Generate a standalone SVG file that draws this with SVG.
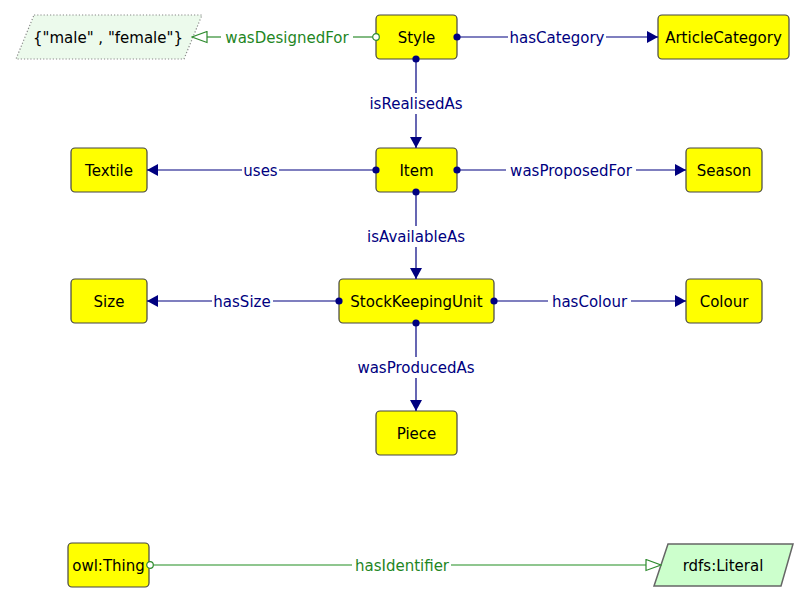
<svg xmlns="http://www.w3.org/2000/svg" width="808" height="602" viewBox="0 0 808 602">
<style>
text{font-family:"DejaVu Sans","Liberation Sans",sans-serif;font-size:15px;text-anchor:middle}
.cls rect{fill:#ffff00;stroke:#444;stroke-width:1.2}
.cls text{fill:#000}
.obj{stroke:#000080;stroke-width:1.2;fill:none}
.dat{stroke:#2e8b2e;stroke-width:1.2;fill:none}
.dat2{stroke:#6ab36a;stroke-width:1.5;fill:none}
.lo{fill:#000080}
.ld{fill:#1f861f}
</style>
<defs>
<marker id="arr" markerUnits="userSpaceOnUse" viewBox="0 0 11 12" refX="11" refY="6" markerWidth="11" markerHeight="12" orient="auto"><path d="M0,0 L11,6 L0,12 z" fill="#000080"/></marker>
<marker id="dot" markerUnits="userSpaceOnUse" viewBox="0 0 8 8" refX="4" refY="4" markerWidth="8" markerHeight="8"><circle cx="4" cy="4" r="3.6" fill="#000080"/></marker>
<marker id="oarr" markerUnits="userSpaceOnUse" viewBox="0 0 17 13" refX="16" refY="6.5" markerWidth="17" markerHeight="13" orient="auto"><path d="M1,1 L16,6.5 L1,12 z" fill="#fff" stroke="#2e8b2e" stroke-width="1.2"/></marker>
<marker id="ocirc" markerUnits="userSpaceOnUse" viewBox="0 0 9 9" refX="4.5" refY="4.5" markerWidth="9" markerHeight="9"><circle cx="4.5" cy="4.5" r="3.3" fill="#fff" stroke="#2e8b2e" stroke-width="1.2"/></marker>
</defs>
<g id="n-genderLiteral">
<polygon points="34,15 202,15 184,59 16,59" fill="#ecfaec" stroke="#888" stroke-width="1.2" stroke-dasharray="1.2,2"/>
<text x="108" y="43" fill="#000">{"male" , "female"}</text>
</g>
<g id="n-Style" class="cls"><rect x="376" y="15" width="81" height="44" rx="4"/><text x="416.5" y="43">Style</text></g>
<g id="n-ArticleCategory" class="cls"><rect x="658" y="15" width="131" height="44" rx="4"/><text x="723.5" y="43">ArticleCategory</text></g>
<g id="n-Textile" class="cls"><rect x="71" y="148" width="76" height="44" rx="4"/><text x="109" y="176">Textile</text></g>
<g id="n-Item" class="cls"><rect x="376" y="148" width="81" height="44" rx="4"/><text x="416.5" y="176">Item</text></g>
<g id="n-Season" class="cls"><rect x="686" y="148" width="76" height="44" rx="4"/><text x="724" y="176">Season</text></g>
<g id="n-Size" class="cls"><rect x="71" y="279" width="76" height="44" rx="4"/><text x="109" y="307">Size</text></g>
<g id="n-StockKeepingUnit" class="cls"><rect x="339" y="279" width="155" height="44" rx="4"/><text x="416.5" y="307">StockKeepingUnit</text></g>
<g id="n-Colour" class="cls"><rect x="686" y="279" width="76" height="44" rx="4"/><text x="724" y="307">Colour</text></g>
<g id="n-Piece" class="cls"><rect x="376" y="411" width="81" height="44" rx="4"/><text x="416.5" y="439">Piece</text></g>
<g id="n-owlThing" class="cls"><rect x="68" y="543" width="81" height="44" rx="4"/><text x="108.5" y="571">owl:Thing</text></g>
<g id="n-rdfsLiteral">
<polygon points="668,544 793,544 781,586 654,586" fill="#ccffcc" stroke="#666" stroke-width="1.5"/>
<text x="723" y="571" fill="#000">rdfs:Literal</text>
</g>
<g id="connectors">
<g id="e-wasDesignedFor">
<line class="dat" x1="376" y1="37" x2="353" y2="37" marker-start="url(#ocirc)"/>
<line class="dat" x1="221" y1="37" x2="192" y2="37" marker-end="url(#oarr)"/>
<text class="ld" x="287" y="43">wasDesignedFor</text>
</g>
<g id="e-hasCategory">
<line class="obj" x1="457" y1="37" x2="508" y2="37" marker-start="url(#dot)"/>
<line class="obj" x1="606" y1="37" x2="658" y2="37" marker-end="url(#arr)"/>
<text class="lo" x="557" y="43">hasCategory</text>
</g>
<g id="e-isRealisedAs">
<line class="obj" x1="416" y1="59" x2="416" y2="93" marker-start="url(#dot)"/>
<line class="obj" x1="416" y1="114" x2="416" y2="148" marker-end="url(#arr)"/>
<text class="lo" x="416" y="109">isRealisedAs</text>
</g>
<g id="e-uses">
<line class="obj" x1="376" y1="170" x2="279" y2="170" marker-start="url(#dot)"/>
<line class="obj" x1="242" y1="170" x2="147" y2="170" marker-end="url(#arr)"/>
<text class="lo" x="260.5" y="176">uses</text>
</g>
<g id="e-wasProposedFor">
<line class="obj" x1="457" y1="170" x2="506" y2="170" marker-start="url(#dot)"/>
<line class="obj" x1="636" y1="170" x2="686" y2="170" marker-end="url(#arr)"/>
<text class="lo" x="571" y="176">wasProposedFor</text>
</g>
<g id="e-isAvailableAs">
<line class="obj" x1="416" y1="192" x2="416" y2="226" marker-start="url(#dot)"/>
<line class="obj" x1="416" y1="247" x2="416" y2="279" marker-end="url(#arr)"/>
<text class="lo" x="416" y="242">isAvailableAs</text>
</g>
<g id="e-hasSize">
<line class="obj" x1="339" y1="301" x2="273" y2="301" marker-start="url(#dot)"/>
<line class="obj" x1="212" y1="301" x2="147" y2="301" marker-end="url(#arr)"/>
<text class="lo" x="242" y="307">hasSize</text>
</g>
<g id="e-hasColour">
<line class="obj" x1="494" y1="301" x2="548" y2="301" marker-start="url(#dot)"/>
<line class="obj" x1="631" y1="301" x2="686" y2="301" marker-end="url(#arr)"/>
<text class="lo" x="589.5" y="307">hasColour</text>
</g>
<g id="e-wasProducedAs">
<line class="obj" x1="416" y1="323" x2="416" y2="357" marker-start="url(#dot)"/>
<line class="obj" x1="416" y1="378" x2="416" y2="411" marker-end="url(#arr)"/>
<text class="lo" x="416" y="373">wasProducedAs</text>
</g>
<g id="e-hasIdentifier">
<line class="dat2" x1="150" y1="565" x2="352" y2="565" marker-start="url(#ocirc)"/>
<line class="dat2" x1="451" y1="565" x2="661" y2="565" marker-end="url(#oarr)"/>
<text class="ld" x="402" y="571">hasIdentifier</text>
</g>
</g>
</svg>
